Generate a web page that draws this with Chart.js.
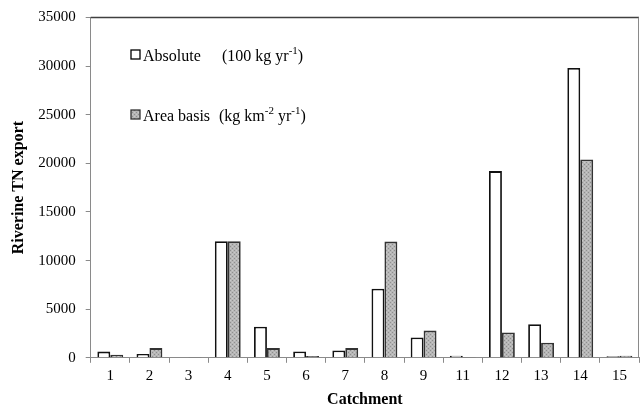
<!DOCTYPE html>
<html>
<head>
<meta charset="utf-8">
<script src="https://cdn.jsdelivr.net/npm/chart.js@4.4.1/dist/chart.umd.min.js"></script>
<style>
  html, body { margin: 0; padding: 0; background: #fff; }
  #wrap { width: 641px; height: 411px; }
</style>
</head>
<body>
<div id="wrap"><canvas id="chart" width="641" height="411"></canvas></div>
<script>
var catchments = ["1", "2", "3", "4", "5", "6", "7", "8", "9", "11", "12", "13", "14", "15"];
var absolute = [640, 400, 50, 12000, 3200, 650, 750, 7100, 2100, 200, 19200, 3450, 29800, 150];
var areaBasis = [320, 1000, 80, 12000, 1000, 180, 1000, 11950, 2800, 80, 2600, 1550, 20400, 200];
var yTicks = [0, 5000, 10000, 15000, 20000, 25000, 30000, 35000];

var SERIF = "'Liberation Serif', 'Times New Roman', serif";

function makePattern() {
  var c = document.createElement("canvas");
  c.width = 4;
  c.height = 4;
  var g = c.getContext("2d");
  g.fillStyle = "#b6b6b6";
  g.fillRect(0, 0, 4, 4);
  g.fillStyle = "#8e8e8e";
  g.fillRect(0, 0, 1, 1);
  g.fillRect(2, 2, 1, 1);
  g.fillStyle = "#c8c8c8";
  g.fillRect(2, 0, 1, 1);
  g.fillRect(0, 2, 1, 1);
  return g.createPattern(c, "repeat");
}

// top and right frame lines
var frame = {
  id: "frame",
  afterDraw: function (chart) {
    var a = chart.chartArea;
    var ctx = chart.ctx;
    ctx.save();
    ctx.strokeStyle = "#404040";
    ctx.lineWidth = 1.5;
    ctx.beginPath();
    ctx.moveTo(a.left, a.top);
    ctx.lineTo(a.right, a.top);
    ctx.stroke();
    ctx.strokeStyle = "#8a8a8a";
    ctx.lineWidth = 1;
    ctx.beginPath();
    ctx.moveTo(a.right - 0.5, a.top);
    ctx.lineTo(a.right - 0.5, a.bottom);
    ctx.stroke();
    ctx.restore();
  }
};

// legend with superscripts
function drawParts(ctx, x, y, parts) {
  parts.forEach(function (p) {
    if (p.sup) {
      ctx.font = "11px " + SERIF;
      ctx.fillText(p.t, x, y - 7);
    } else {
      ctx.font = "16px " + SERIF;
      ctx.fillText(p.t, x, y);
    }
    x += ctx.measureText(p.t).width;
  });
}

var legendBox = {
  id: "legendBox",
  afterDraw: function (chart) {
    var ctx = chart.ctx;
    ctx.save();
    ctx.textBaseline = "alphabetic";
    ctx.fillStyle = "#fff";
    ctx.fillRect(131, 50, 9, 9);
    ctx.strokeStyle = "#000";
    ctx.lineWidth = 1.3;
    ctx.strokeRect(131, 50, 9, 9);
    ctx.fillStyle = "#000";
    drawParts(ctx, 143, 61, [{ t: "Absolute" }]);
    drawParts(ctx, 222, 61, [{ t: "(100 kg yr" }, { t: "-1", sup: true }, { t: ")" }]);

    ctx.fillStyle = makePattern();
    ctx.fillRect(131, 110, 9, 9);
    ctx.strokeStyle = "#333";
    ctx.strokeRect(131, 110, 9, 9);
    ctx.fillStyle = "#000";
    drawParts(ctx, 143, 121, [{ t: "Area basis" }]);
    drawParts(ctx, 219, 121, [{ t: "(kg km" }, { t: "-2", sup: true }, { t: " yr" }, { t: "-1", sup: true }, { t: ")" }]);
    ctx.restore();
  }
};

var ctx = document.getElementById("chart").getContext("2d");
new Chart(ctx, {
  type: "bar",
  data: {
    labels: catchments,
    datasets: [
      {
        label: "Absolute",
        data: absolute,
        backgroundColor: "#ffffff",
        borderColor: "#111111",
        borderWidth: 1.8,
        barPercentage: 1,
        categoryPercentage: 0.66
      },
      {
        label: "Area basis",
        data: areaBasis,
        backgroundColor: makePattern(),
        borderColor: "#333333",
        borderWidth: 1.8,
        barPercentage: 1,
        categoryPercentage: 0.66
      }
    ]
  },
  options: {
    responsive: false,
    animation: false,
    layout: { padding: { top: 6, right: 2, left: 9, bottom: 2 } },
    plugins: {
      legend: { display: false },
      tooltip: { enabled: false }
    },
    scales: {
      x: {
        grid: {
          offset: true,
          drawOnChartArea: false,
          color: "#8a8a8a",
          tickLength: 5
        },
        border: { color: "#8a8a8a", width: 1 },
        ticks: {
          color: "#000",
          font: { family: SERIF, size: 15 },
          padding: 4
        },
        title: {
          display: true,
          text: "Catchment",
          color: "#000",
          font: { family: SERIF, size: 16, weight: "bold" },
          padding: { top: 1, bottom: 0 }
        }
      },
      y: {
        min: 0,
        max: 35000,
        afterBuildTicks: function (axis) {
          axis.ticks = yTicks.map(function (v) { return { value: v }; });
        },
        grid: {
          drawOnChartArea: false,
          color: "#8a8a8a",
          tickLength: 5
        },
        border: { color: "#8a8a8a", width: 1 },
        ticks: {
          color: "#000",
          font: { family: SERIF, size: 15, lineHeight: 1 },
          padding: 10,
          callback: function (v) { return String(v); }
        },
        title: {
          display: true,
          text: "Riverine TN export",
          color: "#000",
          font: { family: SERIF, size: 16, weight: "bold" },
          padding: { top: 0, bottom: 0 }
        }
      }
    }
  },
  plugins: [frame, legendBox]
});
</script>
</body>
</html>
